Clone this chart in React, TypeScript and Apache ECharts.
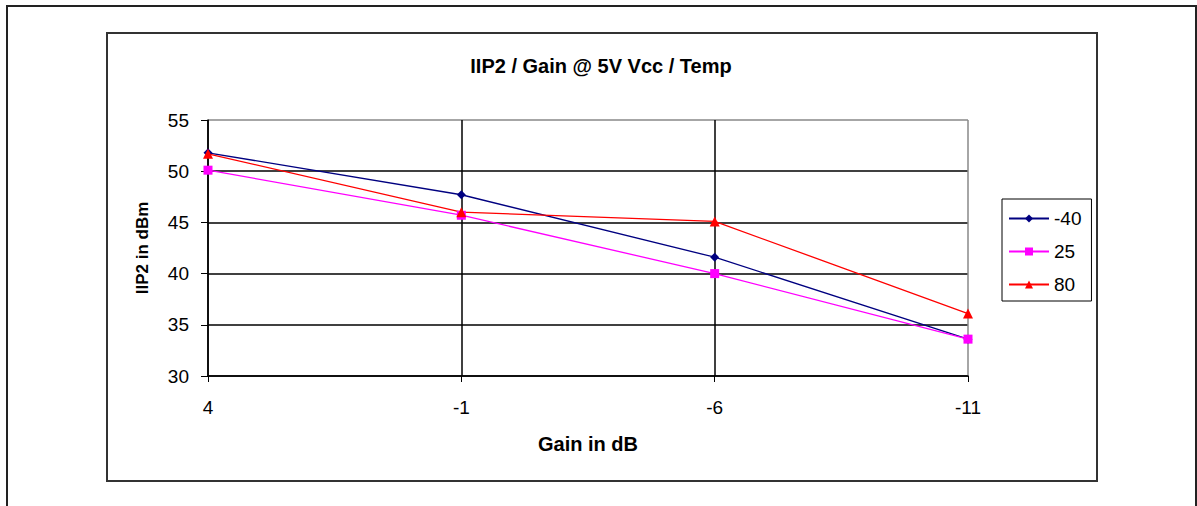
import React, { useEffect, useRef } from "react";
import * as echarts from "echarts";

const categories = ["4", "-1", "-6", "-11"];
const seriesNames = ["-40", "25", "80"];
const valuesM40 = [51.8, 47.7, 41.6, 33.6];
const values25 = [50.1, 45.7, 40.0, 33.6];
const values80 = [51.7, 46.0, 45.1, 36.1];

const FONT = "'Liberation Sans', Arial, sans-serif";

export default function App() {
  const ref = useRef<HTMLDivElement>(null);
  useEffect(() => {
    if (!ref.current) return;
    const chart = echarts.init(ref.current, null, { renderer: "svg" });
    const mk = (name: string, data: number[], color: string, symbol: string, size: number) => ({
      name,
      type: "line",
      data,
      symbol,
      symbolSize: size,
      itemStyle: { color },
      lineStyle: { color, width: 1.3 },
      z: 5,
    });
    chart.setOption({
      animation: false,
      backgroundColor: "#fff",
      textStyle: { fontFamily: FONT },
      title: {
        text: "IIP2 / Gain @ 5V Vcc / Temp",
        left: 596,
        top: 51,
        textAlign: "center",
        textStyle: { fontFamily: FONT, fontSize: 20, fontWeight: "bold", color: "#000" },
      },
      legend: {
        orient: "vertical",
        left: 1002,
        top: 199,
        padding: [10, 10, 7, 6],
        itemWidth: 40,
        itemHeight: 10,
        itemGap: 14,
        borderColor: "#000",
        borderWidth: 1,
        textStyle: { fontFamily: FONT, fontSize: 19, color: "#000" },
        data: seriesNames,
      },
      grid: { left: 208, right: 229, top: 120, bottom: 130 },
      xAxis: {
        type: "category",
        data: categories,
        boundaryGap: false,
        name: "Gain in dB",
        nameLocation: "middle",
        nameGap: 58,
        nameTextStyle: { fontFamily: FONT, fontSize: 20, fontWeight: "bold", color: "#000" },
        axisLine: { lineStyle: { color: "#000", width: 1.5 } },
        axisTick: { show: true, length: 6, lineStyle: { color: "#000" } },
        axisLabel: { fontFamily: FONT, fontSize: 19, color: "#000", margin: 22 },
        splitLine: { show: true, lineStyle: { color: ["#000", "#000", "#000", "#888"], width: 1.5 } },
      },
      yAxis: {
        type: "value",
        min: 30,
        max: 55,
        interval: 5,
        name: "IIP2 in dBm",
        nameLocation: "middle",
        nameGap: 57,
        nameTextStyle: { fontFamily: FONT, fontSize: 17, fontWeight: "bold", color: "#000" },
        axisLine: { show: true, lineStyle: { color: "#000", width: 1.5 } },
        axisTick: { show: true, length: 7, lineStyle: { color: "#000" } },
        axisLabel: { fontFamily: FONT, fontSize: 19, color: "#000", margin: 19 },
        splitLine: {
          show: true,
          lineStyle: { color: ["#000", "#000", "#000", "#000", "#000", "#888"], width: 1.5 },
        },
      },
      graphic: [
        {
          type: "rect",
          shape: { x: 7, y: 6, width: 1189, height: 560 },
          style: { fill: "none", stroke: "#222", lineWidth: 2 },
          silent: true,
        },
        {
          type: "rect",
          shape: { x: 107, y: 33, width: 990, height: 448 },
          style: { fill: "none", stroke: "#333", lineWidth: 2 },
          silent: true,
        },
      ],
      series: [
        mk(seriesNames[0], valuesM40, "#000080", "diamond", 9),
        mk(seriesNames[1], values25, "#ff00ff", "rect", 9),
        mk(seriesNames[2], values80, "#ff0000", "triangle", 10),
      ],
    });
    return () => chart.dispose();
  }, []);
  return (
    <div
      ref={ref}
      style={{ position: "fixed", left: 0, top: 0, width: 1197, height: 506, background: "#fff" }}
    />
  );
}
